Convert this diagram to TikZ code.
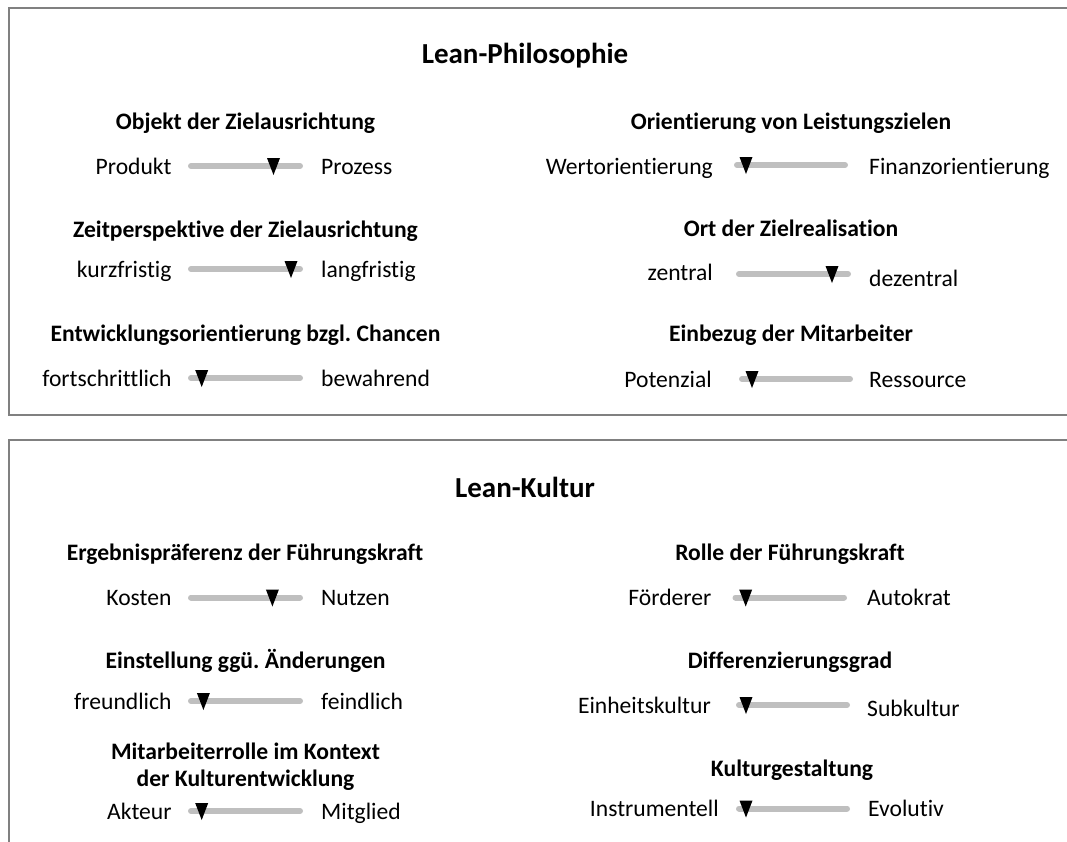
\documentclass[tikz,border=0pt]{standalone}
\usepackage{fontspec}
\setmainfont{Carlito}[Ligatures={NoCommon}]
\frenchspacing
\tikzset{
    frame line/.style={draw=framegray, line width=2pt},
    scale bar/.style={draw=bargray, line width=6pt, line cap=round},
    pole label/.style={font=\fontsize{23.6}{28}\selectfont, inner sep=0pt},
    item title/.style={font=\bfseries\fontsize{23.6}{28}\selectfont, inner sep=0pt, anchor=base},
    box title/.style={font=\bfseries\fontsize{29}{34}\selectfont, inner sep=0pt, anchor=base}
}

\begin{document}
\begin{tikzpicture}[x=1pt,y=-1pt]
  % Colors
    \colorlet{framegray}{black!50}
    \colorlet{bargray}{black!25}

  % canvas
    \useasboundingbox (0,0) rectangle (1067,841);
    \clip (0,0) rectangle (1067,841);

  % The frames (open on the right)
    \draw[frame line] (1080,8) -- (8.5,8) -- (8.5,415) -- (1080,415);
    \draw[frame line] (1080,440) -- (8.5,440) -- (8.5,850);

    \node[box title] (philo) at (525,63) {Lean-Philosophie};
    \node[box title] (kultur) at (525,497) {Lean-Kultur};

  % Item titles
    \foreach \n/\cx/\by/\ttl in {
      1/245.5/129/Objekt der Zielausrichtung,
      2/245.5/237/Zeitperspektive der Zielausrichtung,
      3/245.5/341.6/Entwicklungsorientierung bzgl. Chancen,
      4/791/129/Orientierung von Leistungszielen,
      5/791/236/Ort der Zielrealisation,
      6/791/341.6/Einbezug der Mitarbeiter,
      7/245/560.6/Ergebnispräferenz der Führungskraft,
      8/245.5/668/Einstellung ggü. Änderungen,
      10/790/560.6/Rolle der Führungskraft,
      11/790/668/Differenzierungsgrad,
      12/792/776.7/Kulturgestaltung}
      \node[item title] (t\n) at (\cx,\by) {\ttl};
    \node[item title] (t9) at (245.5,759) {Mitarbeiterrolle im Kontext};
    \node[item title] (t9b) at (245.5,786.7) {der Kulturentwicklung};

  % Scales: bar, marker and the two poles
    \foreach \n/\yy/\sx/\ex/\mx/\lx/\rx/\dl/\dr/\poleA/\poleB in {
      1/166/191/300/273.5/171.7/321/8/8/Produkt/Prozess,
      2/269/191/300/291/171.7/321/8/8/kurzfristig/langfristig,
      3/378/191/300/201.7/171.7/321/8/8/fortschrittlich/bewahrend,
      4/165/737/845/746/713/869/9/9/Wertorientierung/Finanzorientierung,
      5/274/739/848/832/713/869/6/12/zentral/dezentral,
      6/379/742/850/752/712/869/8/8/Potenzial/Ressource,
      7/597.5/191/300/272.4/171.7/321/8/8/Kosten/Nutzen,
      8/701/191/300/203.4/171.7/321/8/8/freundlich/feindlich,
      9/811/191/300/201.7/171.7/321/8/8/Akteur/Mitglied,
      10/597.5/735.5/844/745.7/711.5/867/8/8/Förderer/Autokrat,
      11/705/739/847/746/711/867/8/11.5/Einheitskultur/Subkultur,
      12/808.5/739/847/746/719/868/8/8/Instrumentell/Evolutiv}
    {
      \draw[scale bar] (\sx,\yy) coordinate (s\n) -- (\ex,\yy) coordinate (e\n);
      \fill (\mx-6.5,\yy-8) -- (\mx+6.5,\yy-8) -- (\mx,\yy+9) -- cycle;
      \node[pole label, anchor=base east] (l\n) at (\lx,\yy+\dl) {\poleA};
      \node[pole label, anchor=base west] (r\n) at (\rx,\yy+\dr) {\poleB};
    }
\end{tikzpicture}
\end{document}
